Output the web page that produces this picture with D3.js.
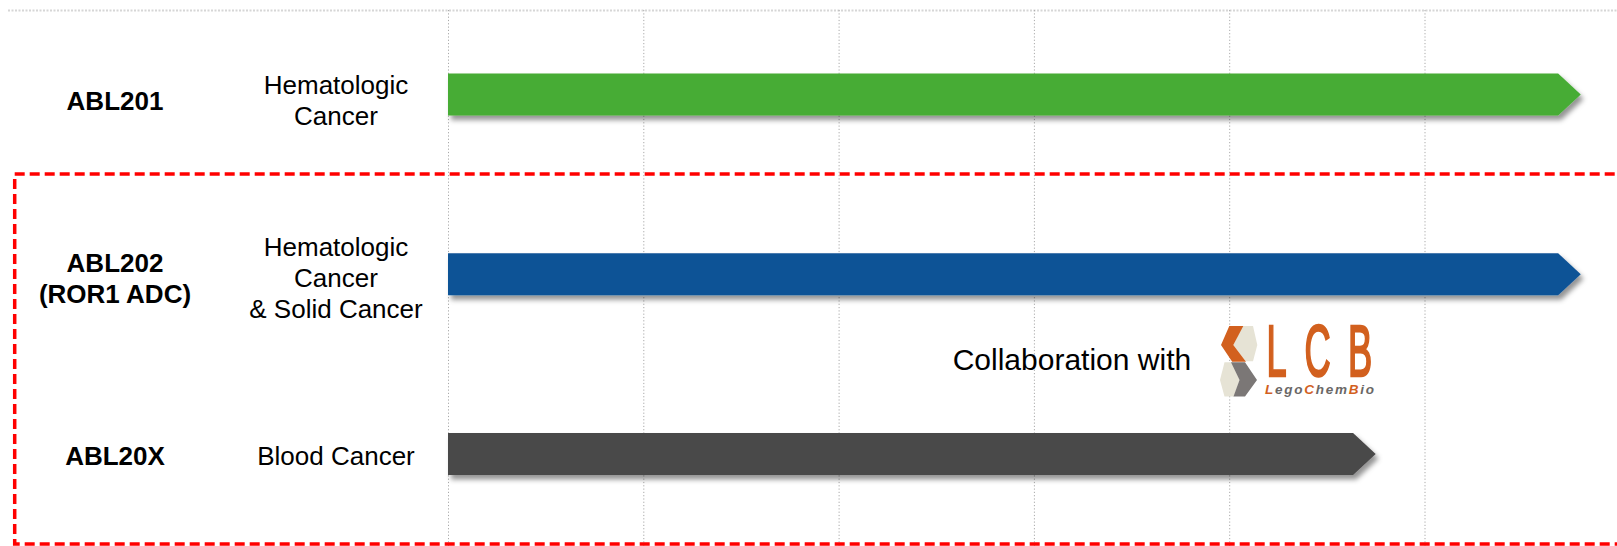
<!DOCTYPE html>
<html>
<head>
<meta charset="utf-8">
<script src="https://cdn.jsdelivr.net/npm/d3@7"></script>
<style>
  html, body { margin: 0; padding: 0; background: #fff; }
  svg { display: block; }
</style>
</head>
<body>
<div id="chart"></div>
<script>
// ---------- data ----------
const products = ["ABL201", "ABL202", "ABL20X"];
const productLabels = [["ABL201"], ["ABL202", "(ROR1 ADC)"], ["ABL20X"]];
const indications = [["Hematologic", "Cancer"], ["Hematologic", "Cancer", "& Solid Cancer"], ["Blood Cancer"]];
const progressStart = [0, 0, 0];
const progressEnd = [5.8, 5.8, 4.75];
const barColors = ["#46AC35", "#0E5396", "#4A4849"];
const gridTicks = [0, 1, 2, 3, 4, 5];
const collabText = "Collaboration with";
const logoLetters = ["L", "C", "B"];
const logoSub = [["L", true], ["ego", false], ["C", true], ["hem", false], ["B", true], ["io", false]];

// ---------- layout ----------
const W = 1617, H = 546;
const svg = d3.select("#chart").append("svg").attr("width", W).attr("height", H);
svg.append("rect").attr("width", W).attr("height", H).attr("fill", "#fff");

const defs = svg.append("defs");
const f = defs.append("filter").attr("id", "shadow")
  .attr("x", "-5%").attr("y", "-40%").attr("width", "115%").attr("height", "200%");
f.append("feDropShadow").attr("dx", 3).attr("dy", 4.5).attr("stdDeviation", 2.6)
  .attr("flood-color", "#000").attr("flood-opacity", 0.42);

const x = d3.scaleLinear().domain([0, 6]).range([448, 448 + 6 * 195.3]);
const yBar = d3.scalePoint().domain(products).range([94.5, 454]);
const yLabel = d3.scalePoint().domain(products).range([100.5, 455.5]);

// top dotted line
svg.append("line").attr("x1", 8).attr("x2", W).attr("y1", 10.5).attr("y2", 10.5)
  .attr("stroke", "#d6d6d6").attr("stroke-width", 2).attr("stroke-dasharray", "2,1.5");

// vertical dotted gridlines via axis
const gAxis = svg.append("g").attr("transform", "translate(0,10)")
  .call(d3.axisBottom(x).tickValues(gridTicks).tickSize(536).tickFormat(""));
gAxis.select(".domain").remove();
gAxis.selectAll(".tick line").attr("stroke", "#a9a9a9").attr("stroke-width", 1)
  .attr("stroke-dasharray", "1.2,2.1");

// red dashed frame
svg.append("rect").attr("x", 14.7).attr("y", 174).attr("width", 1640).attr("height", 370)
  .attr("fill", "none").attr("stroke", "#FF0000").attr("stroke-width", 3.5)
  .attr("stroke-dasharray", "10,5");

// bars (arrow shapes)
const barH = 42, head = 22.6;
const rows = products.map((p, i) => ({ p, i, s: progressStart[i], e: progressEnd[i] }));
svg.append("g").selectAll("path").data(rows).join("path")
  .attr("d", d => {
    const x0 = x(d.s), x1 = x(d.e), yc = yBar(d.p);
    const t = yc - barH / 2, b = yc + barH / 2;
    return `M${x0},${t}L${x1 - head},${t}L${x1},${yc}L${x1 - head},${b}L${x0},${b}Z`;
  })
  .attr("fill", d => barColors[d.i])
  .attr("filter", "url(#shadow)");

// labels
const LH = 31, capHalf = 9.3;
function block(g, lines, cx, cy, bold) {
  const n = lines.length;
  lines.forEach((t, k) => {
    g.append("text")
      .attr("x", cx)
      .attr("y", cy + (k - (n - 1) / 2) * LH + capHalf)
      .attr("text-anchor", "middle")
      .attr("font-family", "'Liberation Sans', Arial, sans-serif")
      .attr("font-size", 26)
      .attr("font-weight", bold ? "bold" : "normal")
      .attr("fill", "#000")
      .text(t);
  });
}
const gL = svg.append("g");
products.forEach((p, i) => {
  block(gL, productLabels[i], 115, yLabel(p), true);
  block(gL, indications[i], 336, yLabel(p), false);
});

// collaboration note
svg.append("text").attr("x", 952.7).attr("y", 370)
  .attr("font-family", "'Liberation Sans', Arial, sans-serif")
  .attr("font-size", 30).attr("fill", "#000").text(collabText);

// LCB logo
const orange = "#D2601E", lgray = "#7B7776", beige = "#E6E3D5";
const logo = svg.append("g");
const poly = (pts, c) => logo.append("polygon").attr("points", pts.map(p => p.join(",")).join(" ")).attr("fill", c);
poly([[1242.5,326],[1253,326],[1257.3,345],[1253,361.2],[1245.5,361.2],[1233.3,345]], beige);
poly([[1224.5,362.2],[1231.5,362.2],[1239.5,380],[1234,396.5],[1224.5,396.5],[1220,380]], beige);
poly([[1229.3,326],[1243.3,326],[1233.3,345],[1246,361.7],[1232.2,361.7],[1221,345]], orange);
poly([[1231,362.2],[1245,362.2],[1257,380],[1245,396.5],[1233.5,396.5],[1239.5,380]], lgray);

const letterX = [1276.5, 1317.5, 1360];
logoLetters.forEach((l, k) => {
  logo.append("text")
    .attr("transform", `translate(${letterX[k]},376) scale(0.5,1)`)
    .attr("text-anchor", "middle")
    .attr("font-family", "'Liberation Sans', Arial, sans-serif")
    .attr("font-size", 72.5)
    .attr("fill", orange).attr("stroke", orange).attr("stroke-width", 2.4)
    .text(l);
});
const sub = logo.append("text").attr("x", 1265).attr("y", 394)
  .attr("font-family", "'Liberation Sans', Arial, sans-serif")
  .attr("font-size", 13.5).attr("font-weight", "bold").attr("font-style", "italic")
  .attr("textLength", 109).attr("lengthAdjust", "spacing");
logoSub.forEach(([t, hi]) => sub.append("tspan").attr("fill", hi ? orange : "#6a6766").text(t));
</script>
</body>
</html>
